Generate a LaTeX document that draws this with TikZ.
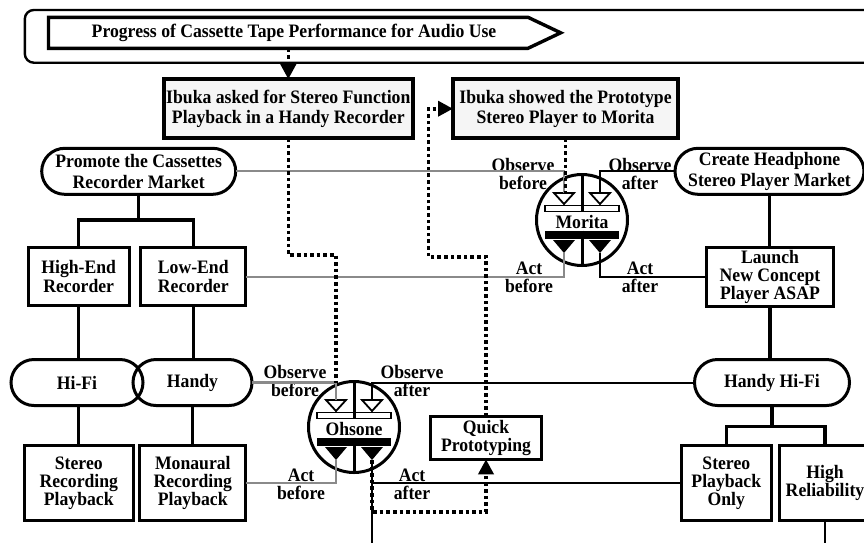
\documentclass[tikz,border=0pt]{standalone}
\usepackage{fontspec}
\setmainfont{Liberation Serif}[FakeStretch=0.93]
\usetikzlibrary{arrows.meta}

\definecolor{linkgrey}{RGB}{138,138,138}
\definecolor{notefill}{RGB}{245,245,245}

\tikzset{
  every node/.style={outer sep=0pt},
  txt/.style={font=\bfseries\fontsize{19pt}{18pt}\selectfont, align=center, inner sep=0pt},
  blockbox/.style 2 args={txt, draw, rectangle, line width=3pt, fill=white,
    minimum width=#1, minimum height=#2},
  notebox/.style 2 args={blockbox={#1}{#2}, fill=notefill, line width=3.6pt,
    font=\bfseries\fontsize{19pt}{20pt}\selectfont},
  pill/.style={txt, draw, rectangle, rounded corners=23pt, line width=3pt,
    minimum width=#1, minimum height=46pt},
  ring/.style={draw, circle, line width=3pt, minimum size=91pt, inner sep=0pt},
  lbl/.style={txt},
  hollowtri/.style={draw, fill=white, line width=1.8pt, line join=miter},
  treeline/.style={line width=3.2pt},
  blackline/.style={line width=2pt},
  greyline/.style={line width=2.2pt, draw=linkgrey},
  dotline/.style={line width=3.6pt, dash pattern=on 3.6pt off 3pt},
  tipped/.style={-{Triangle[length=15pt,width=15pt]}}
}

% Observe/act unit: ring with two observe inputs and two act outputs
\newcommand{\decisionunit}[4]{%
  \begin{scope}[shift={(#2,#3)}]
    \node[ring] (#1) at (0,0) {};
    \draw[line width=1.8pt, fill=white] (-37,-14.5) rectangle (37,-8.5);
    \draw[line width=3pt] (#1.north) -- (0,-8.5);
    \draw[line width=3pt] (0,10.5) -- (#1.south);
    \fill (-37,10.5) rectangle (37,18.5);
    \draw[hollowtri] (-28,-27) -- (-8,-27) -- (-18,-16) -- cycle;
    \draw[hollowtri] (8,-27) -- (28,-27) -- (18,-16) -- cycle;
    \fill (-29,20) -- (-7,20) -- (-18,33) -- cycle;
    \fill (7,20) -- (29,20) -- (18,33) -- cycle;
    \node[txt] (#1-name) at (0,1.5) {#4};
    \coordinate (#1-ob) at (-18,-27);
    \coordinate (#1-oa) at (18,-27);
    \coordinate (#1-ab) at (-18,33);
    \coordinate (#1-aa) at (18,33);
    \node[lbl] (#1-obl) at (-59,-46) {Observe\\before};
    \node[lbl] (#1-oal) at (58,-46) {Observe\\after};
    \node[lbl] (#1-abl) at (-53,57) {Act\\before};
    \node[lbl] (#1-aal) at (58,57) {Act\\after};
  \end{scope}}

\begin{document}
\begin{tikzpicture}[x=1pt, y=-1pt]
  \useasboundingbox (0,0) rectangle (864,542);
  \clip (0,0) rectangle (864,542);

  % heading band
  \draw[line width=2.4pt, rounded corners=9pt] (900,10) -- (24.8,10) -- (24.8,62.7) -- (900,62.7);
  \draw[line width=3.4pt, fill=white, line join=miter]
    (48.5,17.3) -- (528,17.3) -- (560.7,32.8) -- (528,48.3) -- (48.5,48.3) -- cycle;
  \node[txt, minimum width=400pt, minimum height=31pt] (banner) at (294,32.8)
    {Progress of Cassette Tape Performance for Audio Use};

  % Ibuka's two steps
  \node[notebox={249pt}{59pt}] (askd) at (288.3,108.7)
    {Ibuka asked for Stereo Function\\Playback in a Handy Recorder};
  \node[notebox={225pt}{59pt}] (shwd) at (565.5,108.7)
    {Ibuka showed the Prototype\\Stereo Player to Morita};

  % left branch
  \node[pill=194pt, font=\bfseries\fontsize{19pt}{21pt}\selectfont] (prom) at (138.7,171.3)
    {Promote the Cassettes\\Recorder Market};
  \node[blockbox={101pt}{58pt}, font=\bfseries\fontsize{19pt}{19pt}\selectfont] (highend) at (78.7,276.7)
    {High-End\\Recorder};
  \node[blockbox={105pt}{58pt}, font=\bfseries\fontsize{19pt}{19pt}\selectfont] (lowend) at (193.3,276.7)
    {Low-End\\Recorder};
  \node[pill=132pt, fill=none] (hifi) at (77,382.5) {Hi-Fi};
  \node[pill=119pt, fill=none] (handy) at (192.5,382.5) {Handy};
  \node[blockbox={109pt}{75pt}] (strec) at (78.8,483.3) {Stereo\\Recording\\Playback};
  \node[blockbox={106pt}{75pt}] (mono) at (192.8,483.3) {Monaural\\Recording\\Playback};

  % right branch
  \node[pill=189pt, font=\bfseries\fontsize{19pt}{21pt}\selectfont] (create) at (769.5,171.3)
    {Create Headphone\\Stereo Player Market};
  \node[blockbox={127pt}{59pt}] (launch) at (770,277)
    {Launch\\New Concept\\Player ASAP};
  \node[pill=155pt] (hhf) at (772,382.5) {Handy Hi-Fi};
  \node[blockbox={90pt}{75pt}] (spo) at (726.3,483.3) {Stereo\\Playback\\Only};
  \node[blockbox={91pt}{75pt}] (hrel) at (825,483.3) {High\\Reliability};

  % middle
  \node[blockbox={111pt}{43pt}] (qp) at (486,437.8) {Quick\\Prototyping};

  % decision units
  \decisionunit{mor}{582}{220}{Morita}
  \decisionunit{ohs}{354}{427}{Ohsone}

  % trees
  \coordinate (lsplit) at (138.7,220);
  \draw[treeline] (prom.south) -- (lsplit);
  \draw[treeline] (highend.north) |- (lsplit) -| (lowend.north);
  \draw[treeline] (highend.south) -- (highend.south |- hifi.north);
  \draw[treeline] (lowend.south) -- (lowend.south |- handy.north);
  \draw[treeline] (strec.north |- hifi.south) -- (strec.north);
  \draw[treeline] (handy.south) -- (handy.south |- mono.north);

  \draw[treeline] (create.south) -- (create.south |- launch.north);
  \draw[treeline] (launch.south) -- (launch.south |- hhf.north);
  \coordinate (rsplit) at (772,426.7);
  \draw[treeline] (hhf.south) -- (rsplit);
  \draw[treeline] (spo.north) |- (rsplit) -| (hrel.north);

  % observe / act links of Morita
  \draw[greyline] (prom.east) -| (mor-ob);
  \draw[blackline] (mor-oa) |- (create.west);
  \draw[greyline] (lowend.east) -| (mor-ab);
  \draw[blackline] (mor-aa) |- (launch.west);

  % observe / act links of Ohsone
  \draw[greyline] (handy.east) -| (ohs-ob);
  \draw[blackline] (ohs-oa) |- (hhf.west);
  \draw[greyline] (mono.east) -| (ohs-ab);
  \draw[blackline] (ohs-aa) |- (spo.west);

  % lines running off the lower edge
  \coordinate (foot) at (0,548);
  \draw[blackline] (ohs-aa) -- (ohs-aa |- foot);
  \draw[line width=2.6pt] (hrel.south) -- (hrel.south |- foot);

  % dotted flow of events
  \draw[dotline, tipped] (banner.south -| askd.north) -- (askd.north);
  \coordinate (dj1) at (336,255);
  \draw[dotline] (askd.south) |- (dj1) -- (dj1 |- handy.east);
  \coordinate (dj2) at (486,511.7);
  \draw[dotline, tipped] (ohs-aa) |- (dj2) -- (qp.south);
  \coordinate (dj3) at (428.3,256.7);
  \draw[dotline, tipped] (qp.north) |- (dj3) |- (shwd.west);
  \draw[dotline] (shwd.south) -- (shwd.south |- mor-ob);
\end{tikzpicture}
\end{document}
